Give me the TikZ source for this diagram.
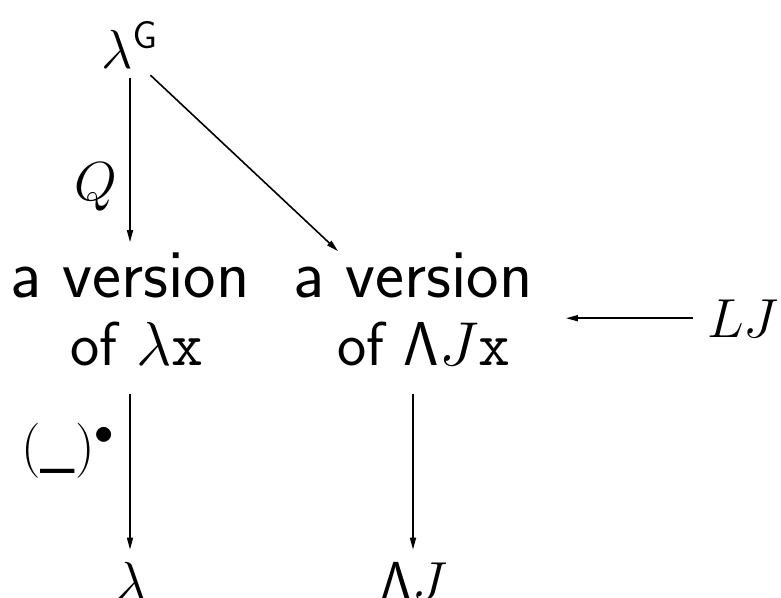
\RequirePackage{fix-cm}
\documentclass[tikz,border=0pt]{standalone}
\usetikzlibrary{arrows.meta}
\begin{document}
\tikzset{
  arr/.style={line width=1.6pt, -{Triangle[length=12pt,width=6pt]}},
  big/.style={font=\fontsize{69}{68}\selectfont\sffamily, align=center, inner sep=0pt},
  lab/.style={font=\fontsize{55}{60}\selectfont, inner sep=0pt},
}
\newcommand\sndline[1]{{\fontsize{62}{68}\selectfont #1}}
\begin{tikzpicture}[x=1pt,y=-1pt]
\useasboundingbox (0,0) rectangle (781,597);
\clip (0,0) rectangle (781,597);
\node[lab, anchor=base west] (lamG) at (101,68) {$\lambda^{\mathsf{G}}$};
\node[big] (A) at (130,309) {a version\\\hspace*{14pt}\sndline{of $\lambda\mathtt{x}$}};
\node[big] (B) at (413,309) {a version\\\hspace*{22pt}\sndline{of $\mathsf{\Lambda}J\mathtt{x}$}};
\node[lab, anchor=base west] (LJ) at (707,337) {$LJ$};
\node[lab, anchor=base] (Q) at (96,200) {$Q$};
\node[lab, anchor=base west] (bul) at (21,464) {$(\textsf{\_})^{\bullet}$};
\node[lab, anchor=base] (lam) at (131,600) {$\lambda$};
\node[lab, anchor=base] (LamJ) at (414,600) {$\mathsf{\Lambda}J$};
\draw[arr, shorten <=10pt, shorten >=10pt] (A.north |- lamG.south) -- (A.north);
\draw[arr] ([shift={(-7,7)}]lamG.south east) -- ([shift={(45,-1)}]B.north west);
\draw[arr, shorten <=14pt, shorten >=33pt] (LJ.west) -- (LJ.west -| B.east);
\draw[arr, shorten <=28pt, shorten >=12pt] (A.south) -- (A.south |- lam.north);
\draw[arr, shorten <=28pt, shorten >=12pt] (B.south) -- (B.south |- LamJ.north);
\end{tikzpicture}
\end{document}
